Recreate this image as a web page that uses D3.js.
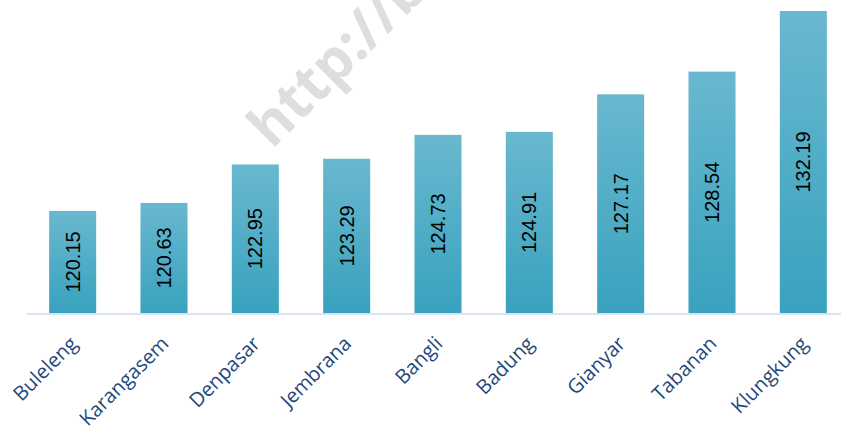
<!DOCTYPE html>
<html>
<head>
<meta charset="utf-8">
<script src="https://cdn.jsdelivr.net/npm/d3@7"></script>
<style>
  html, body { margin: 0; padding: 0; background: #fff; }
  svg { display: block; }
</style>
</head>
<body>
<svg id="chart" width="841" height="426"></svg>
<script>
// Regencies of Bali and their index values
const regions = ["Buleleng", "Karangasem", "Denpasar", "Jembrana", "Bangli", "Badung", "Gianyar", "Tabanan", "Klungkung"];
const values = [120.15, 120.63, 122.95, 123.29, 124.73, 124.91, 127.17, 128.54, 132.19];
const valueLabels = ["120.15", "120.63", "122.95", "123.29", "124.73", "124.91", "127.17", "128.54", "132.19"];

const W = 841, H = 426;
const svg = d3.select("#chart");

const baseY = 313;
const x = d3.scaleBand()
  .domain(regions)
  .range([27, 849])
  .paddingInner(0.485)
  .paddingOuter(0.2425);

const y = d3.scaleLinear()
  .domain([114, 132.19])
  .range([baseY, 11]);

// vertical gradient for the bars
const defs = svg.append("defs");
const grad = defs.append("linearGradient")
  .attr("id", "barGrad")
  .attr("x1", 0).attr("y1", 0).attr("x2", 0).attr("y2", 1);
grad.append("stop").attr("offset", "0%").attr("stop-color", "#69b8cf");
grad.append("stop").attr("offset", "100%").attr("stop-color", "#39a2be");

// faint watermark behind the bars
svg.append("text")
  .attr("transform", "translate(272,150) rotate(-45)")
  .attr("font-family", "'Open Sans', 'Liberation Sans', sans-serif")
  .attr("font-weight", "bold")
  .attr("font-size", 57)
  .attr("fill", "#dedede")
  .text("http://bali");

// bars
const data = regions.map((r, i) => ({ region: r, value: values[i], label: valueLabels[i] }));

svg.append("g").selectAll("rect")
  .data(data)
  .join("rect")
  .attr("x", d => x(d.region))
  .attr("y", d => y(d.value))
  .attr("width", x.bandwidth())
  .attr("height", d => baseY - y(d.value))
  .attr("fill", "url(#barGrad)");

// baseline
svg.append("line")
  .attr("x1", 27).attr("x2", W)
  .attr("y1", baseY + 1).attr("y2", baseY + 1)
  .attr("stroke", "#d9e4f3")
  .attr("stroke-width", 2);

// value labels, rotated inside each bar
svg.append("g").selectAll("text")
  .data(data)
  .join("text")
  .attr("transform", d => {
    const cx = x(d.region) + x.bandwidth() / 2;
    const cy = (y(d.value) + baseY) / 2;
    return `translate(${cx},${cy}) rotate(-90)`;
  })
  .attr("text-anchor", "middle")
  .attr("dy", "0.35em")
  .attr("font-family", "'Liberation Sans', Arial, sans-serif")
  .attr("font-size", 20)
  .attr("fill", "#000")
  .text(d => d.label);

// category labels along the bottom
svg.append("g").selectAll("text")
  .data(regions)
  .join("text")
  .attr("transform", d => {
    const cx = x(d) + x.bandwidth() / 2;
    return `translate(${cx + 1},${baseY + 27}) rotate(-45)`;
  })
  .attr("text-anchor", "end")
  .attr("dy", "0.35em")
  .attr("font-family", "'Open Sans', 'Liberation Sans', sans-serif")
  .attr("font-size", 20)
  .attr("fill", "#1f497d")
  .text(d => d);
</script>
</body>
</html>
